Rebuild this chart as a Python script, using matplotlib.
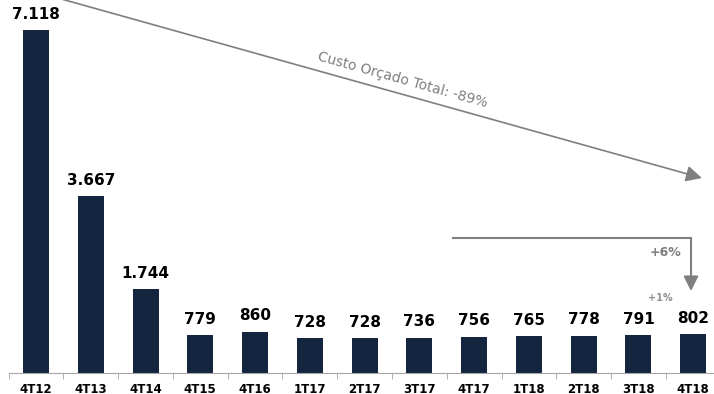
import matplotlib.pyplot as plt

# dados do grafico
periods = ["4T12", "4T13", "4T14", "4T15", "4T16", "1T17", "2T17", "3T17",
           "4T17", "1T18", "2T18", "3T18", "4T18"]
custo = [7118, 3667, 1744, 779, 860, 728, 728, 736, 756, 765, 778, 791, 802]

navy = "#14253f"
grey = "#7f7f7f"

fig = plt.figure(figsize=(7.14, 3.94), dpi=100)
ax = fig.add_axes([8.6 / 714, 21 / 394, 705.4 / 714, 373 / 394])

x = list(range(len(periods)))
bars = ax.bar(x, custo, width=0.475, color=navy)

# rotulos de valor
for xi, v in zip(x, custo):
    lbl = f"{v:,}".replace(",", ".")
    ax.annotate(lbl, (xi, v), xytext=(0, 6), textcoords="offset points",
                ha="center", va="bottom", fontsize=11, fontweight="bold")

for s in ["top", "right", "left"]:
    ax.spines[s].set_visible(False)
ax.spines["bottom"].set_color("#a6a6a6")
ax.set_yticks([])
ax.set_xticks(x)
ax.set_xticklabels(periods, fontsize=8.5, fontweight="bold")
ax.tick_params(axis="x", which="major", length=0, pad=7.5)
ax.set_xticks([i - 0.5 for i in x], minor=True)
ax.tick_params(axis="x", which="minor", length=4, color="#a6a6a6")

# limites depois dos ticks (set_xticks expande a vista)
ax.set_xlim(-0.5, 12.38)
ax.set_ylim(0, 7741)

# seta custo total
ax.annotate("", xy=(12.16, 4046), xytext=(0.2, 7845),
            arrowprops=dict(arrowstyle="-|>", color=grey, lw=1.2,
                            mutation_scale=24, shrinkA=0, shrinkB=0),
            annotation_clip=False)
ax.text(6.70, 6080, "Custo Orçado Total: -89%", rotation=-15.6,
        ha="center", va="center", fontsize=10, color=grey,
        rotation_mode="anchor")

# seta 4T17 -> 4T18
ax.plot([7.62, 11.96], [2801, 2801], color=grey, lw=1.5, clip_on=False)
ax.annotate("", xy=(11.96, 1701), xytext=(11.96, 2801),
            arrowprops=dict(arrowstyle="-|>", color=grey, lw=1.5,
                            mutation_scale=22, shrinkA=0, shrinkB=0),
            annotation_clip=False)
ax.text(11.49, 2511, "+6%", ha="center", va="center", fontsize=9,
        fontweight="bold", color=grey)
ax.text(11.40, 1556, "+1%", ha="center", va="center", fontsize=7,
        fontweight="bold", color="#909090")

fig.savefig("out.png", dpi=100)
